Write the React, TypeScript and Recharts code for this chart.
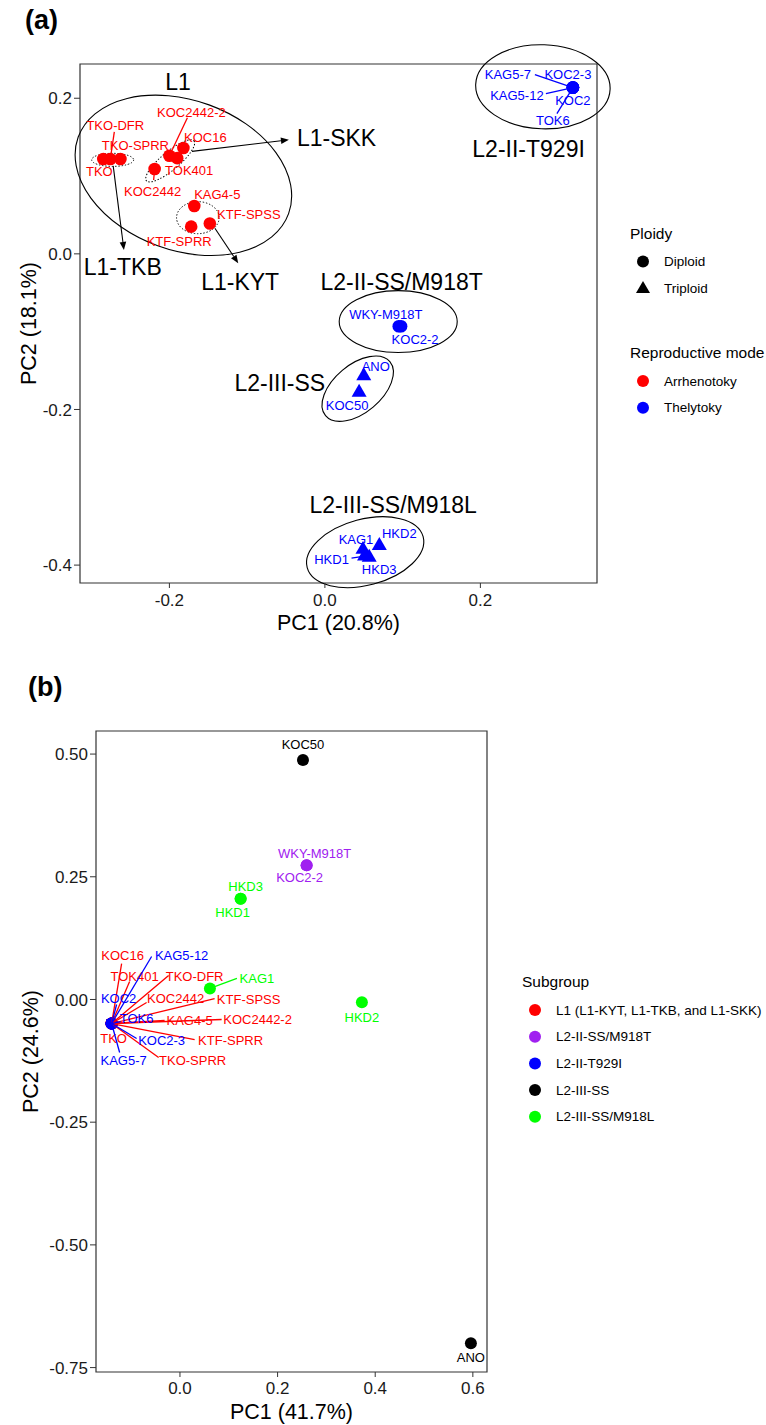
import React from "react";
import { Label, ReferenceArea, ReferenceDot, ReferenceLine, Scatter, ScatterChart, XAxis, YAxis } from "recharts";

const FONT = "'Liberation Sans', Arial, Helvetica, sans-serif";
const RED = "#FF0000";
const BLUE = "#0000FF";
const GREEN = "#00FF00";
const PURPLE = "#A020F0";
const BLACK = "#000000";

// ---------- panel (a) ----------
const samplesA = [
  "TKO", "TKO-DFR", "TKO-SPRR", "KOC2442-2", "TOK401", "KOC16", "KOC2442", "KAG4-5", "KTF-SPSS", "KTF-SPRR",
  "KAG5-7", "KOC2-3", "KAG5-12", "KOC2", "TOK6", "WKY-M918T", "KOC2-2", "ANO", "KOC50", "KAG1", "HKD1", "HKD3", "HKD2",
];
const pc1A = [
  -0.285, -0.276, -0.263, -0.2, -0.19, -0.182, -0.219, -0.168, -0.148, -0.172,
  0.319, 0.319, 0.319, 0.319, 0.319, 0.095, 0.098, 0.05, 0.044, 0.049, 0.051, 0.057, 0.07,
];
const pc2A = [
  0.122, 0.122, 0.122, 0.126, 0.123, 0.136, 0.109, 0.0615, 0.039, 0.035,
  0.2137, 0.2137, 0.2137, 0.2137, 0.2137, -0.093, -0.093, -0.157, -0.178, -0.38, -0.3885, -0.39, -0.375,
];
const ploidyA = [
  "Diploid", "Diploid", "Diploid", "Diploid", "Diploid", "Diploid", "Diploid", "Diploid", "Diploid", "Diploid",
  "Diploid", "Diploid", "Diploid", "Diploid", "Diploid", "Diploid", "Diploid",
  "Triploid", "Triploid", "Triploid", "Triploid", "Triploid", "Triploid",
];
const modeA = [
  "Arrhenotoky", "Arrhenotoky", "Arrhenotoky", "Arrhenotoky", "Arrhenotoky",
  "Arrhenotoky", "Arrhenotoky", "Arrhenotoky", "Arrhenotoky", "Arrhenotoky",
  "Thelytoky", "Thelytoky", "Thelytoky", "Thelytoky", "Thelytoky", "Thelytoky", "Thelytoky",
  "Thelytoky", "Thelytoky", "Thelytoky", "Thelytoky", "Thelytoky", "Thelytoky",
];
const xTicksA = [-0.2, 0, 0.2];
const yTicksA = [-0.4, -0.2, 0, 0.2];
const xDomainA = [-0.315, 0.35];
const yDomainA = [-0.423, 0.244];

// group ellipses: centre, half axes (data units), rotation (deg), dotted?
const ellipsesA = [
  { cx: -0.182, cy: 0.1009, rx: 0.144, ry: 0.0964, angle: 20, dotted: false },
  { cx: 0.2804, cy: 0.2147, rx: 0.0865, ry: 0.054, angle: 2, dotted: false },
  { cx: 0.0943, cy: -0.087, rx: 0.0759, ry: 0.0398, angle: 0, dotted: false },
  { cx: 0.0422, cy: -0.1733, rx: 0.054, ry: 0.0308, angle: -40, dotted: false },
  { cx: 0.0518, cy: -0.3834, rx: 0.0772, ry: 0.0424, angle: -15, dotted: false },
  { cx: -0.273, cy: 0.1208, rx: 0.027, ry: 0.0084, angle: 0, dotted: true },
  { cx: -0.199, cy: 0.1195, rx: 0.0399, ry: 0.0116, angle: -40, dotted: true },
  { cx: -0.1634, cy: 0.0465, rx: 0.0274, ry: 0.0206, angle: 0, dotted: true },
];

const arrowsA = [
  { from: [-0.171, 0.1317], to: [-0.0463, 0.1465] },
  { from: [-0.2723, 0.1131], to: [-0.2585, 0.005] },
  { from: [-0.1415, 0.033], to: [-0.1115, -0.012] },
];

const groupNamesA = ["L1", "L1-SKK", "L2-II-T929I", "L1-TKB", "L1-KYT", "L2-II-SS/M918T", "L2-III-SS", "L2-III-SS/M918L"];
const groupXA = [-0.189, -0.036, 0.262, -0.26, -0.109, 0.0987, -0.058, 0.0878];
const groupYA = [0.221, 0.149, 0.135, -0.017, -0.036, -0.0356, -0.1654, -0.3226];
const groupAnchorA = ["middle", "start", "middle", "middle", "middle", "middle", "middle", "middle"];

// label offsets in px: [dx, dy, lineDx, lineDy]
const labelLayoutA: Record<string, number[]> = {
  "TKO": [-4, 13],
  "TKO-DFR": [5, -33, 4, -27],
  "TKO-SPRR": [15, -13],
  "KOC2442-2": [22, -43, 18, -38],
  "TOK401": [12, 12],
  "KOC16": [22, -11],
  "KOC2442": [-2, 22, -1, 11],
  "KAG4-5": [23, -12],
  "KTF-SPSS": [39, -9],
  "KTF-SPRR": [-12, 15],
  "KAG5-7": [-65, -13, -38, -13],
  "KOC2-3": [-5, -13],
  "KAG5-12": [-56, 8, -27, 6],
  "KOC2": [0, 13],
  "TOK6": [-20, 33, -16, 26],
  "WKY-M918T": [-13, -12],
  "KOC2-2": [14, 13],
  "ANO": [12, -10],
  "KOC50": [-12, 13],
  "KAG1": [-7, -10],
  "HKD1": [-33, 3, -13, 2],
  "HKD3": [10, 12],
  "HKD2": [20, -12],
};

// ---------- panel (b) ----------
const samplesB = [
  "TKO", "TKO-DFR", "TKO-SPRR", "KOC2442-2", "TOK401", "KOC16", "KOC2442", "KAG4-5", "KTF-SPSS", "KTF-SPRR",
  "KAG5-7", "KOC2-3", "KAG5-12", "KOC2", "TOK6", "WKY-M918T", "KOC2-2", "ANO", "KOC50", "KAG1", "HKD1", "HKD3", "HKD2",
];
const pc1B = [
  -0.14, -0.14, -0.14, -0.14, -0.14, -0.14, -0.14, -0.14, -0.14, -0.14,
  -0.14, -0.14, -0.14, -0.14, -0.14, 0.2595, 0.2595, 0.596, 0.252, 0.0614, 0.1243, 0.1243, 0.3727,
];
const pc2B = [
  -0.049, -0.049, -0.049, -0.049, -0.049, -0.049, -0.049, -0.049, -0.049, -0.049,
  -0.049, -0.049, -0.049, -0.049, -0.049, 0.2737, 0.2737, -0.7006, 0.488, 0.0224, 0.205, 0.205, -0.0055,
];
const subgroupB = [
  "L1", "L1", "L1", "L1", "L1", "L1", "L1", "L1", "L1", "L1",
  "L2-II-T929I", "L2-II-T929I", "L2-II-T929I", "L2-II-T929I", "L2-II-T929I",
  "L2-II-SS/M918T", "L2-II-SS/M918T", "L2-III-SS", "L2-III-SS",
  "L2-III-SS/M918L", "L2-III-SS/M918L", "L2-III-SS/M918L", "L2-III-SS/M918L",
];
const subgroupKeys = ["L1", "L2-II-SS/M918T", "L2-II-T929I", "L2-III-SS", "L2-III-SS/M918L"];
const subgroupNames = ["L1 (L1-KYT, L1-TKB, and L1-SKK)", "L2-II-SS/M918T", "L2-II-T929I", "L2-III-SS", "L2-III-SS/M918L"];
const subgroupColors = [RED, PURPLE, BLUE, BLACK, GREEN];
const xTicksB = [0, 0.2, 0.4, 0.6];
const yTicksB = [-0.75, -0.5, -0.25, 0, 0.25, 0.5];
const xDomainB = [-0.172, 0.629];
const yDomainB = [-0.759, 0.547];

const labelLayoutB: Record<string, number[]> = {
  "KOC16": [11, -68, 10, -60],
  "KAG5-12": [70, -68, 40, -67],
  "TOK401": [23, -47, 18, -42],
  "TKO-DFR": [83, -47, 57, -48],
  "KOC2": [7, -25, 5, -19],
  "KOC2442": [64, -25, 35, -21],
  "KTF-SPSS": [137, -24, 103, -25],
  "TOK6": [25, -5, 9, -2],
  "KAG4-5": [78, -3, 53, -3],
  "KOC2442-2": [146, -4, 110, -4],
  "TKO": [2, 15],
  "KOC2-3": [50, 17, 25, 15],
  "KTF-SPRR": [119, 17, 83, 16],
  "KAG5-7": [12, 37, 8, 29],
  "TKO-SPRR": [81, 37, 47, 34],
  "WKY-M918T": [8, -12],
  "KOC2-2": [-7, 12],
  "ANO": [0, 14],
  "KOC50": [0, -15],
  "KAG1": [47, -10, 27, -10],
  "HKD1": [-8, 14],
  "HKD3": [5, -12],
  "HKD2": [0, 15],
};

const pointsA = samplesA.map((name, i) => ({ name, x: pc1A[i], y: pc2A[i], ploidy: ploidyA[i], mode: modeA[i] }));
const pointsB = samplesB.map((name, i) => ({ name, x: pc1B[i], y: pc2B[i], subgroup: subgroupB[i] }));

const colorA = (p: any) => (p.mode === "Arrhenotoky" ? RED : BLUE);
const colorB = (p: any) => subgroupColors[subgroupKeys.indexOf(p.subgroup)];

const triangle = (cx: number, cy: number, s: number, fill: string) => {
  const h = s * 0.866;
  return <polygon points={`${cx},${cy - (2 * h) / 3} ${cx - s / 2},${cy + h / 3} ${cx + s / 2},${cy + h / 3}`} fill={fill} />;
};

const PointA = (props: any) => {
  const { cx, cy, payload } = props;
  const fill = colorA(payload);
  if (payload.ploidy === "Triploid") return triangle(cx, cy, 15, fill);
  return <circle cx={cx} cy={cy} r={6.3} fill={fill} />;
};

const PointB = (props: any) => {
  const { cx, cy, payload } = props;
  return <circle cx={cx} cy={cy} r={6} fill={colorB(payload)} />;
};

const makeLabel = (layout: Record<string, number[]>, colorOf: (p: any) => string) => (props: any) => {
  const { cx, cy, payload } = props;
  const l = layout[payload.name];
  if (!l) return <g />;
  const color = colorOf(payload);
  return (
    <g>
      {l.length > 2 && <line x1={cx} y1={cy} x2={cx + l[2]} y2={cy + l[3]} stroke={color} strokeWidth={1.3} />}
      <text x={cx + l[0]} y={cy + l[1]} textAnchor="middle" dominantBaseline="central" fontSize={13} fontFamily={FONT} fill={color}>
        {payload.name}
      </text>
    </g>
  );
};

const ellipseShape = (angle: number, dotted: boolean) => (p: any) => {
  const w = Math.abs(p.width);
  const h = Math.abs(p.height);
  const cx = Math.min(p.x, p.x + p.width) + w / 2;
  const cy = Math.min(p.y, p.y + p.height) + h / 2;
  return (
    <ellipse
      cx={cx}
      cy={cy}
      rx={w / 2}
      ry={h / 2}
      transform={`rotate(${angle} ${cx} ${cy})`}
      fill="none"
      stroke="#000"
      strokeWidth={dotted ? 1 : 1.1}
      strokeDasharray={dotted ? "1.4 1.8" : undefined}
    />
  );
};

const arrowShape = (p: any) => {
  const { x1, y1, x2, y2 } = p;
  const ang = Math.atan2(y2 - y1, x2 - x1);
  const len = 8;
  const w = 3.3;
  const bx = x2 - len * Math.cos(ang);
  const by = y2 - len * Math.sin(ang);
  const px = -Math.sin(ang) * w;
  const py = Math.cos(ang) * w;
  return (
    <g>
      <line x1={x1} y1={y1} x2={bx} y2={by} stroke="#000" strokeWidth={1.1} />
      <polygon points={`${x2},${y2} ${bx + px},${by + py} ${bx - px},${by - py}`} fill="#000" />
    </g>
  );
};

const tickStyle = { fill: "#1a1a1a", fontSize: 17, fontFamily: FONT };
const titleStyle = { fill: "#000", fontSize: 21.5, fontFamily: FONT };

const LegendItem = ({ y, x, label, symbol }: { y: number; x: number; label: string; symbol: React.ReactNode }) => (
  <g>
    {symbol}
    <text x={x + 21} y={y} dominantBaseline="central" fontSize={13.5} fontFamily={FONT} fill="#000">
      {label}
    </text>
  </g>
);

const Overlay = () => (
  <svg width={766} height={1425} style={{ position: "absolute", left: 0, top: 0, pointerEvents: "none" }}>
    <text x={25} y={20} dominantBaseline="central" fontSize={27} fontWeight="bold" fontFamily={FONT}>(a)</text>
    <text x={28} y={687} dominantBaseline="central" fontSize={27} fontWeight="bold" fontFamily={FONT}>(b)</text>

    <text x={630} y={233} dominantBaseline="central" fontSize={15.5} fontFamily={FONT}>Ploidy</text>
    <LegendItem x={643} y={261.6} label="Diploid" symbol={<circle cx={643} cy={261.6} r={6} fill="#000" />} />
    <LegendItem x={643} y={288.3} label="Triploid" symbol={triangle(643, 289, 14, "#000")} />
    <text x={630} y={352} dominantBaseline="central" fontSize={15.5} fontFamily={FONT}>Reproductive mode</text>
    <LegendItem x={643} y={381} label="Arrhenotoky" symbol={<circle cx={643} cy={381} r={6} fill={RED} />} />
    <LegendItem x={643} y={407.7} label="Thelytoky" symbol={<circle cx={643} cy={407.7} r={6} fill={BLUE} />} />

    <text x={522} y={981} dominantBaseline="central" fontSize={15.5} fontFamily={FONT}>Subgroup</text>
    {subgroupNames.map((name, i) => (
      <LegendItem
        key={name}
        x={535}
        y={1010 + i * 26.7}
        label={name}
        symbol={<circle cx={535} cy={1010 + i * 26.7} r={6} fill={subgroupColors[i]} />}
      />
    ))}
  </svg>
);

const PanelA = () => (
  <ScatterChart width={766} height={660} margin={{ top: 64, right: 169, bottom: 27, left: 10 }}>
    <XAxis
      type="number"
      dataKey="x"
      domain={xDomainA}
      ticks={xTicksA}
      allowDataOverflow
      axisLine={false}
      tickLine={{ stroke: "#333" }}
      tickSize={5}
      tickMargin={6}
      height={50}
      tick={tickStyle}
      tickFormatter={(v: number) => v.toFixed(1)}
    >
      <Label value="PC1 (20.8%)" position="insideBottom" offset={3} style={titleStyle} />
    </XAxis>
    <YAxis
      type="number"
      dataKey="y"
      domain={yDomainA}
      ticks={yTicksA}
      allowDataOverflow
      axisLine={false}
      tickLine={{ stroke: "#333" }}
      tickSize={6}
      tickMargin={2}
      width={70}
      tick={tickStyle}
      tickFormatter={(v: number) => v.toFixed(1)}
    >
      <Label value="PC2 (18.1%)" angle={-90} position="insideLeft" offset={18} style={{ ...titleStyle, textAnchor: "middle" }} />
    </YAxis>
    <ReferenceArea x1={xDomainA[0]} x2={xDomainA[1]} y1={yDomainA[0]} y2={yDomainA[1]} fill="none" stroke="#333" strokeWidth={1.2} ifOverflow="visible" />
    {ellipsesA.map((e, i) => (
      <ReferenceArea
        key={`e${i}`}
        x1={e.cx - e.rx}
        x2={e.cx + e.rx}
        y1={e.cy - e.ry}
        y2={e.cy + e.ry}
        ifOverflow="visible"
        shape={ellipseShape(e.angle, e.dotted)}
      />
    ))}
    {arrowsA.map((a, i) => (
      <ReferenceLine
        key={`a${i}`}
        segment={[{ x: a.from[0], y: a.from[1] }, { x: a.to[0], y: a.to[1] }]}
        ifOverflow="visible"
        shape={arrowShape}
      />
    ))}
    <Scatter data={pointsA} shape={PointA} isAnimationActive={false} />
    <Scatter data={pointsA} shape={makeLabel(labelLayoutA, colorA)} isAnimationActive={false} />
    {groupNamesA.map((g, i) => (
      <ReferenceDot
        key={g}
        x={groupXA[i]}
        y={groupYA[i]}
        ifOverflow="visible"
        shape={(p: any) => (
          <text x={p.cx} y={p.cy} textAnchor={groupAnchorA[i]} dominantBaseline="central" fontSize={23} fontFamily={FONT} fill="#000">
            {g}
          </text>
        )}
      />
    ))}
  </ScatterChart>
);

const PanelB = () => (
  <ScatterChart width={766} height={765} margin={{ top: 71, right: 279, bottom: 3, left: 26 }}>
    <XAxis
      type="number"
      dataKey="x"
      domain={xDomainB}
      ticks={xTicksB}
      allowDataOverflow
      axisLine={false}
      tickLine={{ stroke: "#333" }}
      tickSize={5}
      tickMargin={5}
      height={50}
      tick={tickStyle}
      tickFormatter={(v: number) => v.toFixed(1)}
    >
      <Label value="PC1 (41.7%)" position="insideBottom" offset={3} style={titleStyle} />
    </XAxis>
    <YAxis
      type="number"
      dataKey="y"
      domain={yDomainB}
      ticks={yTicksB}
      allowDataOverflow
      axisLine={false}
      tickLine={{ stroke: "#333" }}
      tickSize={6}
      tickMargin={2}
      width={70}
      tick={tickStyle}
      tickFormatter={(v: number) => v.toFixed(2)}
    >
      <Label value="PC2 (24.6%)" angle={-90} position="insideLeft" offset={4} style={{ ...titleStyle, textAnchor: "middle" }} />
    </YAxis>
    <ReferenceArea x1={xDomainB[0]} x2={xDomainB[1]} y1={yDomainB[0]} y2={yDomainB[1]} fill="none" stroke="#333" strokeWidth={1.2} ifOverflow="visible" />
    <Scatter data={pointsB} shape={PointB} isAnimationActive={false} />
    <Scatter data={pointsB} shape={makeLabel(labelLayoutB, colorB)} isAnimationActive={false} />
  </ScatterChart>
);

export default function App() {
  return (
    <div style={{ position: "absolute", left: 0, top: 0, width: 766, height: 1425, background: "#fff", fontFamily: FONT }}>
      <div style={{ position: "absolute", left: 0, top: 0 }}>
        <PanelA />
      </div>
      <div style={{ position: "absolute", left: 0, top: 660 }}>
        <PanelB />
      </div>
      <Overlay />
    </div>
  );
}
